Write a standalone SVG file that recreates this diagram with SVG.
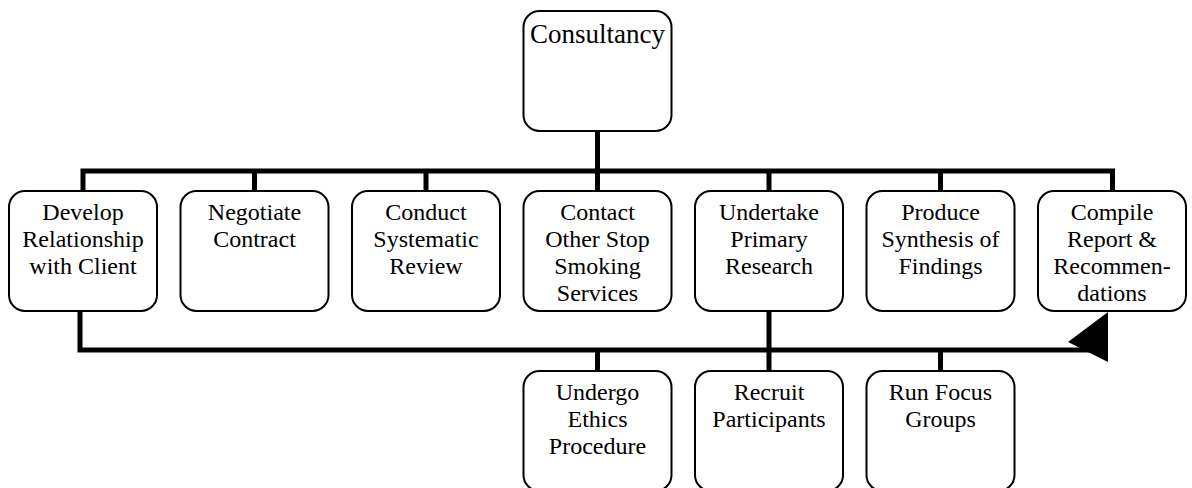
<svg xmlns="http://www.w3.org/2000/svg" width="1192" height="488" viewBox="0 0 1192 488" font-family="'Liberation Serif', 'Times New Roman', serif">
<style>
.box{fill:#fff;stroke:#000;stroke-width:2}
.t{font-family:"Liberation Serif","Times New Roman",serif;font-size:24px;text-anchor:middle;fill:#000}
.big{font-size:27px}
.c{fill:none;stroke:#000;stroke-width:5}
</style>
<rect width="1192" height="488" fill="#fff"/>
<g id="connectors">
<path class="c" d="M597.5,131 V171 M83,191 V171 H1112.5 V191 M254.5,171 V191 M426,171 V191 M597.5,171 V191 M769,171 V191 M940.5,171 V191"/>
<path class="c" d="M80,311 V350 H1090 M769,311 V350 M597.5,350 V371 M769,350 V371 M940.5,350 V371"/>
<polygon points="1108,312 1108,362 1068,342" fill="#000"/>
</g>
<g id="n-consultancy"><rect class="box" x="523.5" y="11" width="148" height="120" rx="16"/><text class="t big" x="597.5" y="43">Consultancy</text></g>
<g id="n-develop"><rect class="box" x="9" y="191" width="148" height="120" rx="16"/><text class="t" x="83" y="220">Develop</text><text class="t" x="83" y="247">Relationship</text><text class="t" x="83" y="274">with Client</text></g>
<g id="n-negotiate"><rect class="box" x="180.5" y="191" width="148" height="120" rx="16"/><text class="t" x="254.5" y="220">Negotiate</text><text class="t" x="254.5" y="247">Contract</text></g>
<g id="n-conduct"><rect class="box" x="352" y="191" width="148" height="120" rx="16"/><text class="t" x="426" y="220">Conduct</text><text class="t" x="426" y="247">Systematic</text><text class="t" x="426" y="274">Review</text></g>
<g id="n-contact"><rect class="box" x="523.5" y="191" width="148" height="120" rx="16"/><text class="t" x="597.5" y="220">Contact</text><text class="t" x="597.5" y="247">Other Stop</text><text class="t" x="597.5" y="274">Smoking</text><text class="t" x="597.5" y="301">Services</text></g>
<g id="n-undertake"><rect class="box" x="695" y="191" width="148" height="120" rx="16"/><text class="t" x="769" y="220">Undertake</text><text class="t" x="769" y="247">Primary</text><text class="t" x="769" y="274">Research</text></g>
<g id="n-produce"><rect class="box" x="866.5" y="191" width="148" height="120" rx="16"/><text class="t" x="940.5" y="220">Produce</text><text class="t" x="940.5" y="247">Synthesis of</text><text class="t" x="940.5" y="274">Findings</text></g>
<g id="n-compile"><rect class="box" x="1038" y="191" width="148" height="120" rx="16"/><text class="t" x="1112" y="220">Compile</text><text class="t" x="1112" y="247">Report &amp;</text><text class="t" x="1112" y="274">Recommen-</text><text class="t" x="1112" y="301">dations</text></g>
<g id="n-undergo"><rect class="box" x="523.5" y="371" width="148" height="120" rx="16"/><text class="t" x="597.5" y="400">Undergo</text><text class="t" x="597.5" y="427">Ethics</text><text class="t" x="597.5" y="454">Procedure</text></g>
<g id="n-recruit"><rect class="box" x="695" y="371" width="148" height="120" rx="16"/><text class="t" x="769" y="400">Recruit</text><text class="t" x="769" y="427">Participants</text></g>
<g id="n-focus"><rect class="box" x="866.5" y="371" width="148" height="120" rx="16"/><text class="t" x="940.5" y="400">Run Focus</text><text class="t" x="940.5" y="427">Groups</text></g>
</svg>
